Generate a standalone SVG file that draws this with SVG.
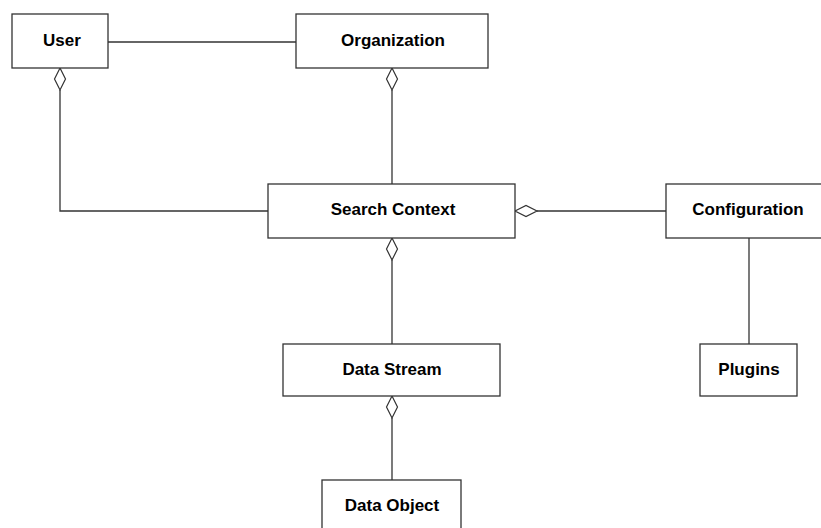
<svg xmlns="http://www.w3.org/2000/svg" width="821" height="528" viewBox="0 0 821 528">
<style>
.box{fill:#fff;stroke:#333;stroke-width:1.3}
.lbl{font-family:"Liberation Sans",Arial,sans-serif;font-weight:bold;font-size:17px;fill:#000;text-anchor:middle}
.ln{fill:none;stroke:#333;stroke-width:1.3}
.dia{fill:#fff;stroke:#333;stroke-width:1.2}
</style>
<rect width="821" height="528" fill="#fff"/>
<g id="connectors">
<line class="ln" x1="108" y1="42" x2="296" y2="42"/>
<polyline class="ln" points="60,90 60,211 268,211"/>
<line class="ln" x1="392" y1="90" x2="392" y2="184"/>
<line class="ln" x1="537" y1="211" x2="666" y2="211"/>
<line class="ln" x1="749" y1="238" x2="749" y2="344"/>
<line class="ln" x1="392" y1="260" x2="392" y2="344"/>
<line class="ln" x1="392" y1="418" x2="392" y2="480"/>
<polygon class="dia" points="60,68 65.5,79 60,90 54.5,79"/>
<polygon class="dia" points="392,68 397.5,79 392,90 386.5,79"/>
<polygon class="dia" points="515,211 526,205.5 537,211 526,216.5"/>
<polygon class="dia" points="392,238 397.5,249 392,260 386.5,249"/>
<polygon class="dia" points="392,396 397.5,407 392,418 386.5,407"/>
</g>
<g id="user"><rect class="box" x="12" y="14" width="96" height="54"/><text class="lbl" x="62" y="46">User</text></g>
<g id="organization"><rect class="box" x="296" y="14" width="192" height="54"/><text class="lbl" x="393" y="46">Organization</text></g>
<g id="search-context"><rect class="box" x="268" y="184" width="247" height="54"/><text class="lbl" x="393" y="215">Search Context</text></g>
<g id="configuration"><rect class="box" x="666" y="184" width="170" height="54"/><text class="lbl" x="748" y="215">Configuration</text></g>
<g id="data-stream"><rect class="box" x="283" y="344" width="217" height="52"/><text class="lbl" x="392" y="375">Data Stream</text></g>
<g id="plugins"><rect class="box" x="700" y="344" width="97" height="52"/><text class="lbl" x="749" y="375">Plugins</text></g>
<g id="data-object"><rect class="box" x="322" y="480" width="139" height="60"/><text class="lbl" x="392" y="511">Data Object</text></g>
</svg>
